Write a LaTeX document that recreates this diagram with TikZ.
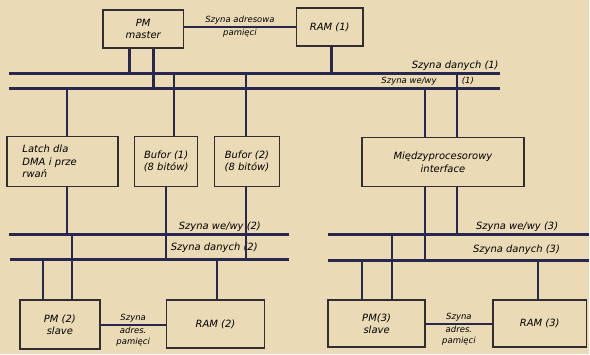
\documentclass[tikz,border=0pt]{standalone}
\usepackage{fontspec}
\setmainfont{DejaVu Sans}
\definecolor{paper}{RGB}{234,218,182}
\definecolor{ink}{RGB}{50,45,50}
\definecolor{busc}{RGB}{40,40,78}
\newcommand{\hand}{\fontsize{10}{12.5}\selectfont\itshape}
\newcommand{\handsm}{\fontsize{8.5}{10.5}\selectfont\itshape}

\begin{document}
\begin{tikzpicture}[x=1pt, y=-1pt,
    blk/.style={draw=ink, line width=1.6pt, inner sep=0pt, font=\hand, align=center},
    bus/.style={draw=busc, line width=2.8pt},
    link/.style={draw=busc, line width=2pt},
    fat link/.style={draw=busc, line width=2.6pt},
    lbl/.style={font=\hand, inner sep=1pt},
    small/.style={font=\handsm, inner sep=1.5pt, align=center},
  ]
  \fill[paper] (0,0) rectangle (590,355);

  % --- blocks
  \node[blk, minimum width=81, minimum height=38] (pm1) at (143.5,29) {PM\\master};
  \node[blk, minimum width=67, minimum height=38] (ram1) at (330.5,27) {RAM (1)};
  \node[blk, minimum width=111, minimum height=50, text width=80, align=left] (latch) at (62.5,162) {Latch dla\\DMA i prze\\rwań};
  \node[blk, minimum width=63, minimum height=50] (buf1) at (166.5,162) {Bufor (1)\\(8 bitów)};
  \node[blk, minimum width=65, minimum height=50] (buf2) at (247.5,162) {Bufor (2)\\(8 bitów)};
  \node[blk, minimum width=162, minimum height=49] (intf) at (444,162.5) {Międzyprocesorowy\\interface};
  \node[blk, minimum width=80, minimum height=49] (pm2) at (60,325.5) {PM (2)\\slave};
  \node[blk, minimum width=98, minimum height=48] (ram2) at (216,325) {RAM (2)};
  \node[blk, minimum width=97, minimum height=47] (pm3) at (377.5,324.5) {PM(3)\\slave};
  \node[blk, minimum width=94, minimum height=47] (ram3) at (541,324.5) {RAM (3)};

  % --- buses
  \coordinate (d1w) at (9,74);   \coordinate (d1e) at (501,74);
  \coordinate (io1w) at (9,89);  \coordinate (io1e) at (501,89);
  \coordinate (io2w) at (9,235); \coordinate (io2e) at (290,235);
  \coordinate (d2w) at (10,260); \coordinate (d2e) at (290,260);
  \coordinate (io3w) at (329,235); \coordinate (io3e) at (590,235);
  \coordinate (d3w) at (329,261);  \coordinate (d3e) at (590,261);
  \draw[bus] (d1w) -- (d1e);
  \draw[bus] (io1w) -- (io1e);
  \draw[bus] (io2w) -- (io2e);
  \draw[bus] (d2w) -- (d2e);
  \draw[bus] (io3w) -- (io3e);
  \draw[bus] (d3w) -- (d3e);

  \node[lbl, anchor=south east] (ld1) at (501,72) {Szyna danych (1)};
  \node[small] (lio1) at (410,81.5) {Szyna we/wy};
  \node[small] (lio1n) at (469,81.5) {(1)};
  \node[lbl, anchor=south west] (lio2) at (178,233) {Szyna we/wy (2)};
  \node[lbl, anchor=west] (ld2) at (170,248.5) {Szyna danych (2)};
  \node[lbl, anchor=south west] (lio3) at (476,233) {Szyna we/wy (3)};
  \node[lbl, anchor=west] (ld3) at (473,250) {Szyna danych (3)};

  % --- taps on the buses
  \coordinate (pmA) at (130,74);  \coordinate (pmB) at (154,89);
  \coordinate (ramA) at (332,74);
  \coordinate (latA) at (67,89);  \coordinate (latB) at (67,235);
  \coordinate (bufA) at (174,74); \coordinate (bufC) at (166,260);
  \coordinate (bufB) at (247,74); \coordinate (bufD) at (247,260);
  \coordinate (intA) at (426,89); \coordinate (intC) at (426,261);
  \coordinate (intB) at (458,74); \coordinate (intD) at (458,235);
  \coordinate (pm2A) at (43,260); \coordinate (pm2B) at (72,235);
  \coordinate (ram2A) at (218,260);
  \coordinate (pm3A) at (363,261); \coordinate (pm3B) at (393,235);
  \coordinate (ram3A) at (539,261);

  \draw[fat link] (pmA) -- (pmA |- pm1.south);
  \draw[fat link] (pmB) -- (pmB |- pm1.south);
  \draw[fat link] (ramA) -- (ramA |- ram1.south);
  \foreach \t/\b in {latA/latch, bufA/buf1, bufB/buf2, intA/intf, intB/intf}
    \draw[link] (\t) -- (\t |- \b.north);
  \foreach \t/\b in {latB/latch, bufC/buf1, bufD/buf2, intC/intf, intD/intf}
    \draw[link] (\t) -- (\t |- \b.south);
  \foreach \t/\b in {pm2A/pm2, pm2B/pm2, ram2A/ram2, pm3A/pm3, pm3B/pm3, ram3A/ram3}
    \draw[link] (\t) -- (\t |- \b.north);

  % --- memory address buses
  \draw[link] (ram1.west -| pm1.east) -- (ram1.west)
    node[small, midway, above] (la1) {Szyna adresowa}
    node[small, midway, below] (la1b) {pamięci};
  \draw[link] (pm2.east) -- (pm2.east -| ram2.west)
    node[small, midway, above] (la2) {Szyna}
    node[small, midway, below] (la2b) {adres.\\pamięci};
  \draw[link] (pm3.east) -- (pm3.east -| ram3.west)
    node[small, midway, above] (la3) {Szyna}
    node[small, midway, below] (la3b) {adres.\\pamięci};

\end{tikzpicture}
\end{document}
